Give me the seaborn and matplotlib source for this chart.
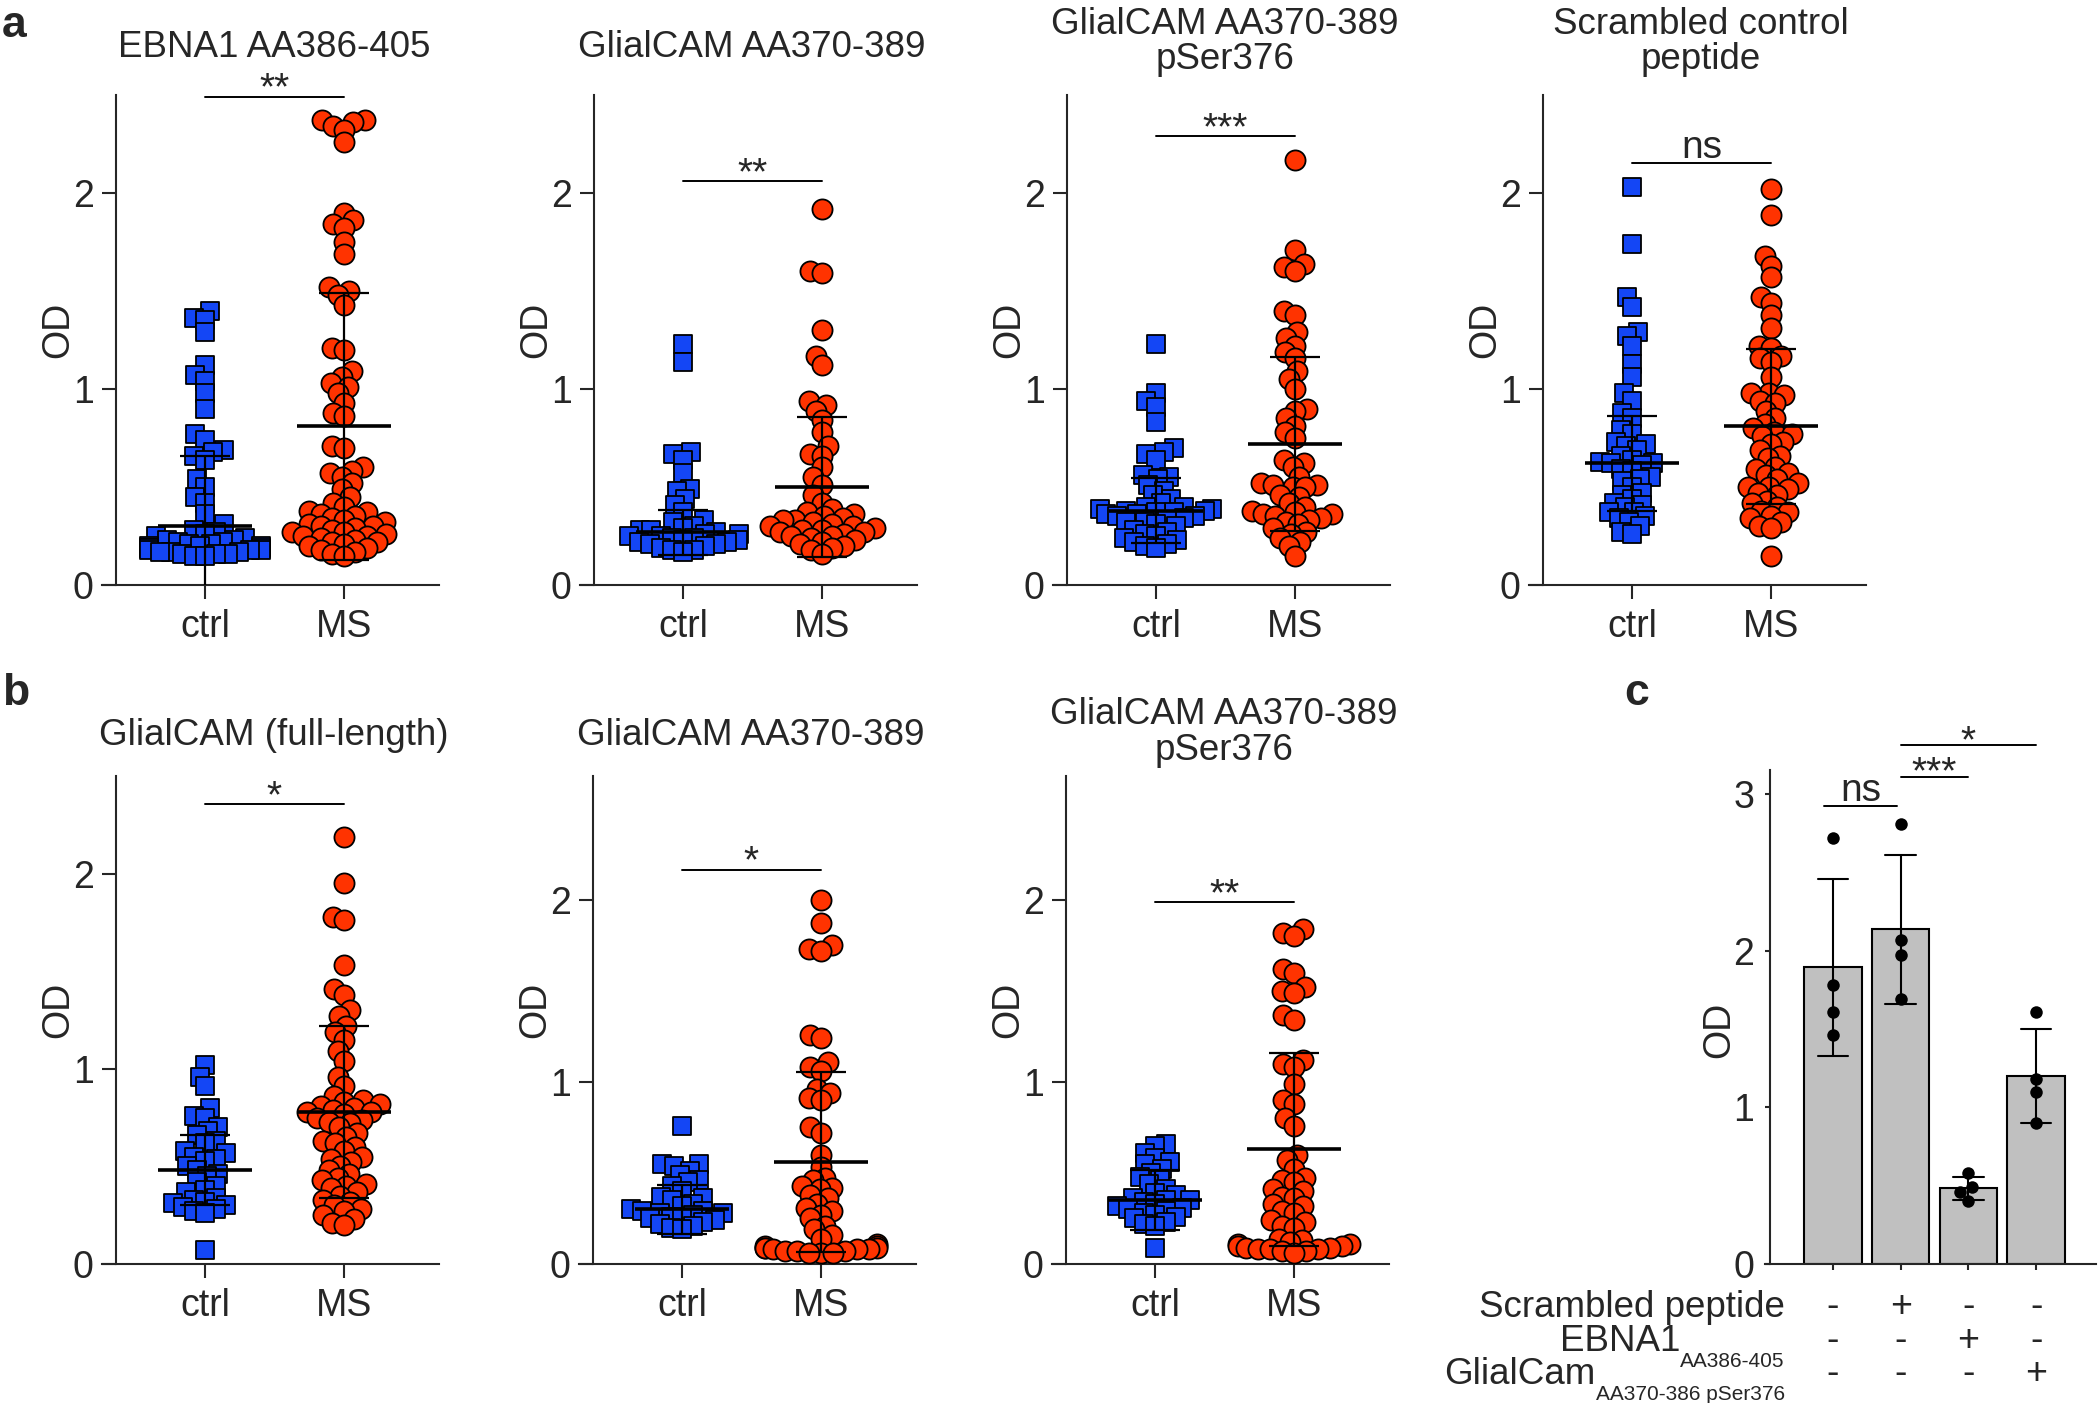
import numpy as np
import pandas as pd
import matplotlib
matplotlib.use('Agg')
import matplotlib.pyplot as plt
import seaborn as sns

sns.set_style('ticks')
plt.rcParams['font.family'] = ['Liberation Sans', 'DejaVu Sans']

BLUE = '#1446f5'
RED = '#ff3300'
GREY = '#c0c0c0'
groups = ['ctrl', 'MS']

# ---- panel a: OD values ----
a1_ctrl = [1.40, 1.36, 1.35, 1.29, 1.12, 1.07, 1.04, 0.98, 0.90, 0.77, 0.74, 0.69, 0.68, 0.66,
           0.64, 0.54, 0.50, 0.45, 0.42, 0.36, 0.31, 0.28, 0.27, 0.26, 0.25, 0.24, 0.23, 0.23,
           0.22, 0.22, 0.21, 0.21, 0.20, 0.20, 0.20, 0.19, 0.19, 0.19, 0.18, 0.18, 0.18, 0.17,
           0.17, 0.17, 0.16, 0.16, 0.16, 0.15, 0.15]
a1_ms = [2.37, 2.37, 2.36, 2.34, 2.32, 2.26, 1.90, 1.86, 1.84, 1.82, 1.75, 1.69, 1.52, 1.50,
         1.48, 1.43, 1.21, 1.20, 1.09, 1.06, 1.03, 1.01, 0.98, 0.93, 0.88, 0.86, 0.71, 0.70,
         0.60, 0.58, 0.57, 0.55, 0.52, 0.49, 0.45, 0.42, 0.40, 0.38, 0.37, 0.36, 0.35, 0.34,
         0.33, 0.32, 0.31, 0.30, 0.30, 0.29, 0.28, 0.27, 0.27, 0.26, 0.25, 0.25, 0.24, 0.23,
         0.22, 0.22, 0.21, 0.20, 0.19, 0.18, 0.17, 0.16, 0.15]
a2_ctrl = [1.23, 1.14, 0.68, 0.67, 0.64, 0.57, 0.49, 0.48, 0.44, 0.41, 0.37, 0.33, 0.32, 0.30,
           0.29, 0.28, 0.28, 0.27, 0.26, 0.26, 0.25, 0.25, 0.24, 0.24, 0.23, 0.23, 0.22, 0.22,
           0.21, 0.21, 0.20, 0.19, 0.18, 0.18, 0.17]
a2_ms = [1.92, 1.60, 1.59, 1.30, 1.17, 1.12, 0.94, 0.92, 0.89, 0.84, 0.78, 0.71, 0.67, 0.66,
         0.60, 0.55, 0.51, 0.46, 0.42, 0.39, 0.37, 0.36, 0.35, 0.34, 0.33, 0.33, 0.32, 0.31,
         0.30, 0.30, 0.29, 0.28, 0.28, 0.27, 0.27, 0.26, 0.25, 0.25, 0.24, 0.23, 0.22, 0.21,
         0.20, 0.19, 0.18, 0.16]
a3_ctrl = [1.23, 0.98, 0.94, 0.91, 0.83, 0.70, 0.68, 0.67, 0.64, 0.56, 0.55, 0.54, 0.51, 0.48,
           0.46, 0.44, 0.42, 0.40, 0.40, 0.39, 0.39, 0.38, 0.38, 0.37, 0.37, 0.36, 0.36, 0.35,
           0.35, 0.34, 0.33, 0.32, 0.32, 0.31, 0.30, 0.28, 0.27, 0.26, 0.25, 0.24, 0.23, 0.22,
           0.21, 0.20, 0.19]
a3_ms = [2.17, 1.71, 1.64, 1.62, 1.60, 1.40, 1.38, 1.29, 1.26, 1.22, 1.19, 1.16, 1.09, 1.05,
         1.00, 0.90, 0.89, 0.85, 0.81, 0.78, 0.75, 0.64, 0.62, 0.60, 0.55, 0.52, 0.51, 0.51,
         0.50, 0.50, 0.46, 0.45, 0.42, 0.40, 0.38, 0.37, 0.36, 0.36, 0.35, 0.34, 0.33, 0.32,
         0.31, 0.29, 0.27, 0.26, 0.24, 0.22, 0.20, 0.15]
a4_ctrl = [2.03, 1.74, 1.47, 1.42, 1.29, 1.27, 1.22, 1.13, 1.06, 0.98, 0.94, 0.88, 0.85, 0.79,
           0.77, 0.73, 0.72, 0.71, 0.69, 0.66, 0.64, 0.63, 0.62, 0.62, 0.61, 0.59, 0.58, 0.55,
           0.54, 0.53, 0.50, 0.47, 0.46, 0.44, 0.42, 0.41, 0.40, 0.37, 0.37, 0.35, 0.34, 0.32,
           0.30, 0.27, 0.26]
a4_ms = [2.02, 1.89, 1.68, 1.63, 1.57, 1.47, 1.44, 1.38, 1.31, 1.22, 1.21, 1.17, 1.16, 1.14,
         1.06, 0.98, 0.98, 0.97, 0.94, 0.93, 0.89, 0.85, 0.82, 0.80, 0.78, 0.77, 0.76, 0.73,
         0.72, 0.69, 0.66, 0.65, 0.60, 0.59, 0.57, 0.56, 0.54, 0.52, 0.50, 0.50, 0.49, 0.47,
         0.46, 0.43, 0.42, 0.40, 0.38, 0.37, 0.35, 0.34, 0.32, 0.30, 0.29, 0.15]

# ---- panel b ----
b1_ctrl = [1.02, 0.96, 0.91, 0.80, 0.76, 0.75, 0.70, 0.68, 0.66, 0.63, 0.62, 0.58, 0.57, 0.55,
           0.54, 0.53, 0.50, 0.48, 0.46, 0.45, 0.42, 0.40, 0.38, 0.37, 0.34, 0.33, 0.32, 0.31,
           0.30, 0.29, 0.28, 0.27, 0.26, 0.07]
b1_ms = [2.19, 1.95, 1.78, 1.76, 1.53, 1.41, 1.38, 1.30, 1.27, 1.22, 1.19, 1.15, 1.09, 1.04,
         0.96, 0.91, 0.86, 0.84, 0.83, 0.82, 0.81, 0.80, 0.79, 0.78, 0.78, 0.77, 0.75, 0.74,
         0.73, 0.72, 0.70, 0.67, 0.65, 0.63, 0.62, 0.60, 0.58, 0.55, 0.54, 0.52, 0.50, 0.48,
         0.46, 0.44, 0.43, 0.41, 0.40, 0.39, 0.37, 0.35, 0.33, 0.32, 0.30, 0.28, 0.27, 0.25,
         0.23, 0.21, 0.20]
b2_ctrl = [0.76, 0.55, 0.55, 0.54, 0.51, 0.49, 0.46, 0.45, 0.43, 0.40, 0.37, 0.36, 0.35, 0.33,
           0.32, 0.30, 0.29, 0.29, 0.28, 0.28, 0.27, 0.26, 0.25, 0.25, 0.24, 0.23, 0.22, 0.21,
           0.20, 0.19]
b2_ms = [2.00, 1.87, 1.75, 1.73, 1.72, 1.26, 1.24, 1.11, 1.08, 1.06, 0.96, 0.94, 0.91, 0.90,
         0.75, 0.72, 0.60, 0.53, 0.47, 0.46, 0.43, 0.42, 0.41, 0.38, 0.36, 0.33, 0.31, 0.29,
         0.27, 0.25, 0.21, 0.19, 0.16, 0.14, 0.11, 0.10, 0.10, 0.09, 0.09, 0.09, 0.08, 0.08,
         0.08, 0.07, 0.07, 0.07, 0.06, 0.06, 0.06]
b3_ctrl = [0.66, 0.65, 0.61, 0.58, 0.56, 0.55, 0.52, 0.50, 0.48, 0.46, 0.44, 0.41, 0.39, 0.38,
           0.36, 0.35, 0.35, 0.34, 0.33, 0.32, 0.31, 0.30, 0.29, 0.28, 0.27, 0.26, 0.25, 0.23,
           0.22, 0.21, 0.09]
b3_ms = [1.84, 1.82, 1.80, 1.62, 1.60, 1.52, 1.50, 1.49, 1.37, 1.34, 1.12, 1.10, 1.08, 0.99,
         0.90, 0.88, 0.80, 0.76, 0.60, 0.57, 0.52, 0.47, 0.46, 0.45, 0.41, 0.40, 0.37, 0.36,
         0.33, 0.32, 0.29, 0.28, 0.24, 0.23, 0.21, 0.20, 0.14, 0.13, 0.12, 0.11, 0.11, 0.10,
         0.10, 0.09, 0.09, 0.08, 0.08, 0.08, 0.07, 0.07, 0.06]

# mean and SD lines as drawn in the figure [ctrl, MS]
a1_mean, a1_sd = [0.30, 0.81], [0.36, 0.68]
a2_mean, a2_sd = [0.27, 0.50], [0.115, 0.355]
a3_mean, a3_sd = [0.38, 0.72], [0.165, 0.445]
a4_mean, a4_sd = [0.62, 0.81], [0.24, 0.395]
b1_mean, b1_sd = [0.48, 0.78], [0.18, 0.44]
b2_mean, b2_sd = [0.30, 0.56], [0.135, 0.495]
b3_mean, b3_sd = [0.35, 0.63], [0.165, 0.53]

# ---- panel c ----
conditions = ['none', 'scrambled', 'EBNA1', 'GlialCam']
c_none = [2.72, 1.78, 1.61, 1.46]
c_scrambled = [2.81, 2.07, 1.97, 1.69]
c_ebna1 = [0.58, 0.49, 0.46, 0.40]
c_glialcam = [1.61, 1.18, 1.10, 0.90]
row_scrambled = ['-', '+', '-', '-']
row_ebna1 = ['-', '-', '+', '-']
row_glialcam = ['-', '-', '-', '+']

W, H = 2099, 1403
fig = plt.figure(figsize=(W / 100, H / 100), dpi=100)
swarms = []  # (collection, final marker size)


def add_swarm(ax, group, values, marker, color, layout_size, final_size):
    n0 = len(ax.collections)
    sns.swarmplot(data=pd.DataFrame({'group': group, 'OD': values}), x='group', y='OD', order=groups,
                  marker=marker, color=color, edgecolor='black', linewidth=1.3, size=layout_size,
                  warn_thresh=1, ax=ax)
    for coll in ax.collections[n0:]:
        swarms.append((coll, final_size))


def od_panel(ctrl_x, bottom, top, ymax, ctrl, ms, mean, sd, title, title_base, sig, sig_y):
    unit = 139
    ax = fig.add_axes([(ctrl_x - 0.74 * unit) / W, 1 - bottom / H, 2.42 * unit / W, (bottom - top) / H])
    # swarm layout is done with smaller markers, so the final ones overlap like the original
    add_swarm(ax, 'ctrl', ctrl, 's', BLUE, 6.5, 12.5)
    add_swarm(ax, 'MS', ms, 'o', RED, 7, 14.5)
    x = np.arange(2)
    ax.hlines(mean, x - 0.335, x + 0.335, color='black', lw=2.6, zorder=5)
    ax.errorbar(x, mean, yerr=sd, fmt='none', ecolor='black', elinewidth=1.6, capsize=18,
                capthick=1.6, zorder=5)
    ax.set_xlim(-0.74, 1.68)
    ax.set_ylim(0, ymax)
    ax.spines['left'].set_position(('data', -0.64))
    for s in ['top', 'right']:
        ax.spines[s].set_visible(False)
    for s in ['left', 'bottom']:
        ax.spines[s].set_linewidth(1.5)
    ax.set_yticks([0, 1, 2])
    ax.tick_params(axis='y', length=10, width=1.5, labelsize=27, pad=6)
    ax.tick_params(axis='x', length=10, width=1.5, labelsize=27, pad=7)
    ax.set_xlabel('')
    ax.set_ylabel('OD', fontsize=27)
    ax.yaxis.set_label_coords(-0.077, 0.52)
    # significance bar
    ax.plot([0, 1], [sig_y, sig_y], color='black', lw=1.4, clip_on=False)
    off = 3 if sig == 'ns' else -2
    ax.annotate(sig, (0.5, sig_y), xytext=(0, off), textcoords='offset points', ha='center',
                va='baseline', fontsize=28, annotation_clip=False)
    for line, yb in zip(title, title_base):
        fig.text((ctrl_x + 69) / W, 1 - yb / H, line, ha='center', va='baseline', fontsize=26.5)
    return ax


od_panel(205, 585, 95, 2.5, a1_ctrl, a1_ms, a1_mean, a1_sd, ['EBNA1 AA386-405'], [57], '**', 2.49)
od_panel(683, 585, 95, 2.5, a2_ctrl, a2_ms, a2_mean, a2_sd, ['GlialCAM AA370-389'], [57], '**', 2.06)
od_panel(1156, 585, 95, 2.5, a3_ctrl, a3_ms, a3_mean, a3_sd, ['GlialCAM AA370-389', 'pSer376'],
         [34, 69], '***', 2.29)
od_panel(1632, 585, 95, 2.5, a4_ctrl, a4_ms, a4_mean, a4_sd, ['Scrambled control', 'peptide'],
         [34, 69], 'ns', 2.155)
od_panel(205, 1264, 776, 2.5, b1_ctrl, b1_ms, b1_mean, b1_sd, ['GlialCAM (full-length)'], [745], '*', 2.354)
od_panel(682, 1264, 776, 2.68, b2_ctrl, b2_ms, b2_mean, b2_sd, ['GlialCAM AA370-389'], [745], '*', 2.164)
od_panel(1155, 1264, 776, 2.68, b3_ctrl, b3_ms, b3_mean, b3_sd, ['GlialCAM AA370-389', 'pSer376'],
         [724, 760], '**', 1.987)

# ---- panel c: bar chart ----
cx0, cunit = 1833, 67.7
axc = fig.add_axes([(cx0 - 1.0 * cunit) / W, 1 - 1264 / H, 4.88 * cunit / W, (1264 - 770.4) / H])
df_c = pd.DataFrame({'cond': np.repeat(conditions, 4),
                     'OD': np.concatenate([c_none, c_scrambled, c_ebna1, c_glialcam])})
sns.barplot(data=df_c, x='cond', y='OD', order=conditions, errorbar='sd', color=GREY, saturation=1,
            edgecolor='black', linewidth=1.5, width=0.85, capsize=0.45,
            err_kws={'color': 'black', 'linewidth': 1.5}, ax=axc)
sns.swarmplot(data=df_c, x='cond', y='OD', order=conditions, color='black', size=9, ax=axc)
axc.set_xlim(-1.0, 3.88)
axc.set_ylim(0, 3.15)
axc.spines['left'].set_position(('data', -0.93))
for s in ['top', 'right']:
    axc.spines[s].set_visible(False)
for s in ['left', 'bottom']:
    axc.spines[s].set_linewidth(1.5)
axc.set_yticks([0, 1, 2, 3])
axc.set_xticks(range(4))
axc.set_xticklabels([])
axc.tick_params(axis='y', length=3.5, width=1.5, labelsize=27, pad=8)
axc.tick_params(axis='x', length=4, width=1.5)
axc.set_xlabel('')
axc.set_ylabel('OD', fontsize=27)
axc.yaxis.set_label_coords(-0.086, 0.475)

for (x1, x2, yl, txt, off) in [(-0.14, 0.95, 2.92, 'ns', 4), (1.0, 2.0, 3.11, '***', -5),
                                (1.0, 3.0, 3.31, '*', -5)]:
    axc.plot([x1, x2], [yl, yl], color='black', lw=1.4, clip_on=False)
    axc.annotate(txt, ((x1 + x2) / 2, yl), xytext=(0, off), textcoords='offset points', ha='center',
                 va='baseline', fontsize=28, annotation_clip=False)

# +/- table under the bars
renderer = fig.canvas.get_renderer()
lab_x = -0.71
axc.text(lab_x, -0.34, 'Scrambled peptide', ha='right', va='baseline', fontsize=26.5, clip_on=False)
for main, sub, yb, ys in [('EBNA1', 'AA386-405', -0.553, -0.659),
                          ('GlialCam', 'AA370-386 pSer376', -0.765, -0.87)]:
    t = axc.text(lab_x, ys, sub, ha='right', va='baseline', fontsize=15, clip_on=False)
    w = t.get_window_extent(renderer).width * 72 / fig.dpi
    axc.annotate(main, (lab_x, yb), xytext=(-w, 0), textcoords='offset points', ha='right',
                 va='baseline', fontsize=26.5, annotation_clip=False)
for row, yb in [(row_scrambled, -0.34), (row_ebna1, -0.553), (row_glialcam, -0.765)]:
    for i, sgn in enumerate(row):
        axc.text(i, yb, sgn, ha='center', va='baseline', fontsize=27, clip_on=False)

# panel letters
fig.text(2 / W, 1 - 37 / H, 'a', fontsize=32, fontweight='bold', va='baseline')
fig.text(2 / W, 1 - 705 / H, 'b', fontsize=32, fontweight='bold', va='baseline')
fig.text(1624 / W, 1 - 705 / H, 'c', fontsize=32, fontweight='bold', va='baseline')

# fix the swarm positions, then enlarge the markers
fig.canvas.draw()
for coll, s in swarms:
    coll.__dict__.pop('draw', None)
    coll.set_sizes([s ** 2])

fig.savefig('out.png', dpi=100)
